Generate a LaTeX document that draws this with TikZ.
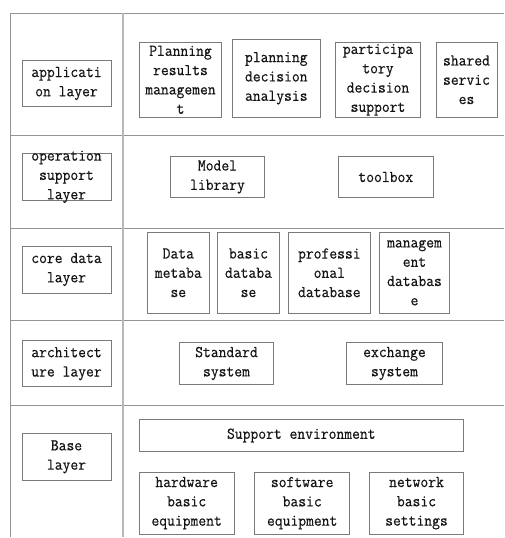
\documentclass[tikz,border=0pt]{standalone}
\usepackage{fontspec}
\newfontfamily\boxfont[FakeStretch=0.92,FakeBold=0.4]{Latin Modern Mono}
\begin{document}
\begin{tikzpicture}[x=1pt,y=-1pt,
  frame/.style={draw=black!42,line width=1.1pt},
  divider/.style={draw=black!28,line width=1.8pt},
  blk/.style={draw=black!52,line width=0.9pt,inner sep=0pt,fill=white},
  txt/.style={inner sep=0pt,align=center,text=black!92,
    font=\boxfont\fontsize{16.5}{19.3}\selectfont}]
\useasboundingbox (0,0) rectangle (504,538);

% layer grid
\draw[frame] (504,13.3) -- (10.7,13.3) -- (10.7,537);
\foreach \yy in {135.3,228.3,320.7,405.7}
  \draw[frame] (10.7,\yy) -- (504,\yy);
\draw[divider] (123,13.3) -- (123,537);

% box: name, x1, y1, x2, y2, text
\newcommand\blkbox[6]{%
  \node[blk,minimum width={#4-#2},minimum height={#5-#3}] (#1)
    at ({(#2+#4)/2},{(#3+#5)/2}) {};
  \node[txt] at (#1.center) {#6};}

% layer names
\blkbox{lapp}{22}{60.7}{111}{106.3}{applicati\\on layer}
\blkbox{lops}{22}{153}{111}{200.7}{operation\\support\\layer}
\blkbox{lcore}{22}{246}{111}{293}{core data\\layer}
\blkbox{larch}{22}{340.7}{111}{386.7}{architect\\ure layer}
\blkbox{lbase}{22}{433}{111}{480.7}{Base\\layer}

% application layer
\blkbox{prm}{139.3}{42.3}{221.7}{117.3}{Planning\\results\\managemen\\t}
\blkbox{pda}{232.3}{39.3}{320.3}{117.3}{planning\\decision\\analysis}
\blkbox{pds}{335.3}{42.3}{420.7}{117.3}{participa\\tory\\decision\\support}
\blkbox{shs}{436}{42.3}{497}{117.3}{shared\\servic\\es}

% operation support layer
\blkbox{mlib}{170.3}{156.7}{264.7}{197.3}{Model\\library}
\blkbox{tbox}{338.3}{156.7}{433.3}{197.3}{toolbox}

% core data layer
\blkbox{dmb}{147.3}{232.3}{209.3}{313.3}{Data\\metaba\\se}
\blkbox{bdb}{217.3}{232.3}{279.7}{313.3}{basic\\databa\\se}
\blkbox{pdb}{288}{232.3}{370.7}{313.3}{professi\\onal\\database}
\blkbox{mdb}{379.3}{232.3}{449.7}{313.3}{managem\\ent\\databas\\e}

% architecture layer
\blkbox{std}{179.3}{342.3}{273.7}{384.7}{Standard\\system}
\blkbox{exs}{346.3}{342.3}{442.7}{384.7}{exchange\\system}

% base layer
\blkbox{senv}{139.3}{419.3}{463.3}{451.7}{Support environment}
\blkbox{hbe}{139.3}{472.3}{234}{534}{hardware\\basic\\equipment}
\blkbox{sbe}{254.7}{472.3}{349.7}{534}{software\\basic\\equipment}
\blkbox{nbs}{369.3}{472.3}{463.7}{534}{network\\basic\\settings}
\end{tikzpicture}
\end{document}
